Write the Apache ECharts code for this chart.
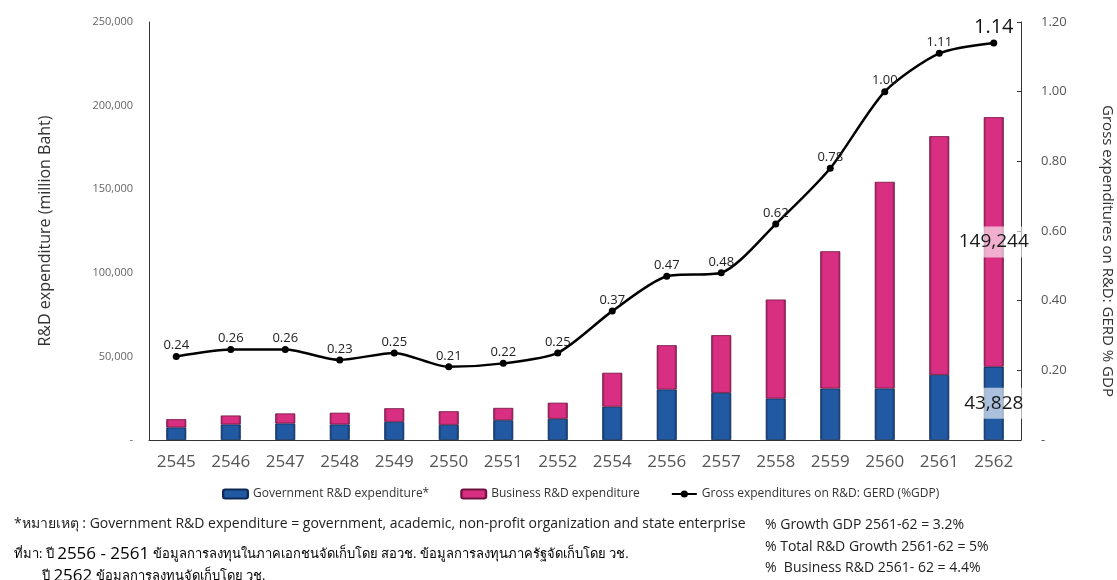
<!DOCTYPE html>
<html>
<head>
<meta charset="utf-8">
<script src="https://cdn.jsdelivr.net/npm/echarts@6/dist/echarts.min.js"></script>
<style>
  html, body { margin: 0; padding: 0; background: #fff; }
  #chart { width: 1117px; height: 580px; }
</style>
</head>
<body>
<div id="chart"></div>
<script>
// Fiscal years (Thai Buddhist calendar)
const years = ['2545','2546','2547','2548','2549','2550','2551','2552','2554','2556','2557','2558','2559','2560','2561','2562'];

// R&D expenditure, million Baht
const govSpend = [7500, 9300, 9900, 9300, 10900, 9100, 11800, 12700, 19900, 30200, 28200, 24800, 30800, 30800, 39000, 43828];
const bizSpend = [4950, 5350, 6000, 7000, 8100, 8100, 7400, 9600, 20300, 26500, 34500, 59200, 82100, 123600, 142700, 149244];

// Gross expenditure on R&D as % of GDP
const gerdPct = [0.24, 0.26, 0.26, 0.23, 0.25, 0.21, 0.22, 0.25, 0.37, 0.47, 0.48, 0.62, 0.78, 1.00, 1.11, 1.14];

const seriesNames = ['Government R&D expenditure*', 'Business R&D expenditure', 'Gross expenditures on R&D: GERD (%GDP)'];

const leftTicks = { max: 250000, interval: 50000 };
const rightTicks = { max: 1.2, interval: 0.2 };

const FONT = '"Open Sans", "Noto Sans", "DejaVu Sans", sans-serif';
const lastIdx = years.length - 1;

function barFill(edge, mid) {
  return new echarts.graphic.LinearGradient(0, 0, 1, 0, [
    { offset: 0, color: edge },
    { offset: 0.14, color: mid },
    { offset: 0.86, color: mid },
    { offset: 1, color: edge }
  ]);
}
const blueFill = barFill('#13366b', '#2159a3');
const pinkFill = barFill('#8e1a52', '#d92f82');

const valueLabel = {
  show: true,
  position: 'inside',
  fontFamily: FONT,
  fontSize: 19,
  color: '#1a1a1a',
  backgroundColor: 'rgba(255,255,255,0.62)',
  padding: [6, 2]
};

const govData = govSpend.map((v, i) => i === lastIdx
  ? { value: v, label: Object.assign({}, valueLabel, { formatter: () => v.toLocaleString('en-US') }) }
  : v);
const bizData = bizSpend.map((v, i) => i === lastIdx
  ? { value: v, label: Object.assign({}, valueLabel, { formatter: () => v.toLocaleString('en-US') }) }
  : v);
const lineData = gerdPct.map((v, i) => i === lastIdx
  ? { value: v, label: { fontSize: 20, fontWeight: 500, color: '#111', distance: 2 } }
  : v);

const chart = echarts.init(document.getElementById('chart'), null, { renderer: 'canvas' });

chart.setOption({
  backgroundColor: '#ffffff',
  animation: false,
  textStyle: { fontFamily: FONT },
  grid: { left: 149, right: 96, top: 22, bottom: 140 },
  legend: {
    left: 217,
    top: 483,
    itemWidth: 25,
    itemHeight: 9,
    itemGap: 31,
    textStyle: { fontFamily: FONT, fontSize: 12, color: '#333' },
    data: seriesNames
  },
  xAxis: {
    type: 'category',
    data: years,
    axisLine: { lineStyle: { color: '#333', width: 1 } },
    axisTick: { show: false },
    axisLabel: { color: '#555', fontSize: 17, margin: 14, fontFamily: FONT }
  },
  yAxis: [
    {
      type: 'value',
      min: 0,
      max: leftTicks.max,
      interval: leftTicks.interval,
      name: 'R&D expenditure (million Baht)',
      nameLocation: 'middle',
      nameGap: 96,
      nameRotate: 90,
      nameTextStyle: { fontSize: 16, color: '#333', fontFamily: FONT },
      axisLine: { show: true, lineStyle: { color: '#333' } },
      axisTick: { show: false },
      splitLine: { show: false },
      axisLabel: {
        color: '#666', fontSize: 11, margin: 16,
        formatter: v => v === 0 ? '-' : v.toLocaleString('en-US')
      }
    },
    {
      type: 'value',
      min: 0,
      max: rightTicks.max,
      interval: rightTicks.interval,
      position: 'right',
      axisLine: { show: true, lineStyle: { color: '#333' } },
      axisTick: { show: true, inside: true, length: 4, lineStyle: { color: '#333' } },
      splitLine: { show: false },
      axisLabel: {
        color: '#555', fontSize: 13, margin: 20,
        formatter: v => v === 0 ? '-' : v.toFixed(2)
      }
    }
  ],
  series: [
    {
      name: seriesNames[0],
      type: 'bar',
      stack: 'rd',
      barWidth: 20,
      data: govData,
      itemStyle: { color: blueFill, borderColor: '#0d2a55', borderWidth: 0.8 },
      label: { show: false }
    },
    {
      name: seriesNames[1],
      type: 'bar',
      stack: 'rd',
      barWidth: 20,
      data: bizData,
      itemStyle: { color: pinkFill, borderColor: '#6e1240', borderWidth: 0.8 },
      label: { show: false }
    },
    {
      name: seriesNames[2],
      type: 'line',
      yAxisIndex: 1,
      data: lineData,
      smooth: 0.25,
      symbol: 'circle',
      symbolSize: 7,
      lineStyle: { color: '#000', width: 2.5 },
      itemStyle: { color: '#000' },
      label: {
        show: true,
        position: 'top',
        distance: 1,
        fontSize: 13,
        color: '#222',
        fontFamily: FONT,
        formatter: p => Number(p.value).toFixed(2)
      },
      z: 5
    }
  ],
  graphic: [
    {
      // right-hand axis title, reading top to bottom
      type: 'text', x: 1107, y: 251, rotation: -Math.PI / 2,
      style: {
        text: 'Gross expenditures on R&D: GERD % GDP',
        font: '15px ' + FONT, fill: '#333',
        align: 'center', verticalAlign: 'middle'
      }
    },
    {
      type: 'text', left: 14, top: 517,
      style: {
        text: '*หมายเหตุ : Government R&D expenditure = government, academic, non-profit organization and state enterprise',
        font: '14px ' + FONT, fill: '#222'
      }
    },
    {
      type: 'text', left: 14, top: 546,
      style: {
        text: '{s|ที่มา: ปี }{n|2556 - 2561}{s| ข้อมูลการลงทุนในภาคเอกชนจัดเก็บโดย สอวช. ข้อมูลการลงทุนภาครัฐจัดเก็บโดย วช.}',
        rich: {
          s: { fontSize: 13, fontFamily: FONT, color: '#222' },
          n: { fontSize: 17, fontFamily: FONT, color: '#222' }
        }
      }
    },
    {
      type: 'text', left: 42, top: 568,
      style: {
        text: '{s|ปี }{n|2562}{s| ข้อมูลการลงทุนจัดเก็บโดย วช.}',
        rich: {
          s: { fontSize: 13, fontFamily: FONT, color: '#222' },
          n: { fontSize: 17, fontFamily: FONT, color: '#222' }
        }
      }
    },
    {
      type: 'text', left: 765, top: 518,
      style: { text: '% Growth GDP 2561-62 = 3.2%', font: '14px ' + FONT, fill: '#222' }
    },
    {
      type: 'text', left: 765, top: 540,
      style: { text: '% Total R&D Growth 2561-62 = 5%', font: '14px ' + FONT, fill: '#222' }
    },
    {
      type: 'text', left: 765, top: 561,
      style: { text: '%  Business R&D 2561- 62 = 4.4%', font: '14px ' + FONT, fill: '#222' }
    }
  ]
});
</script>
</body>
</html>
